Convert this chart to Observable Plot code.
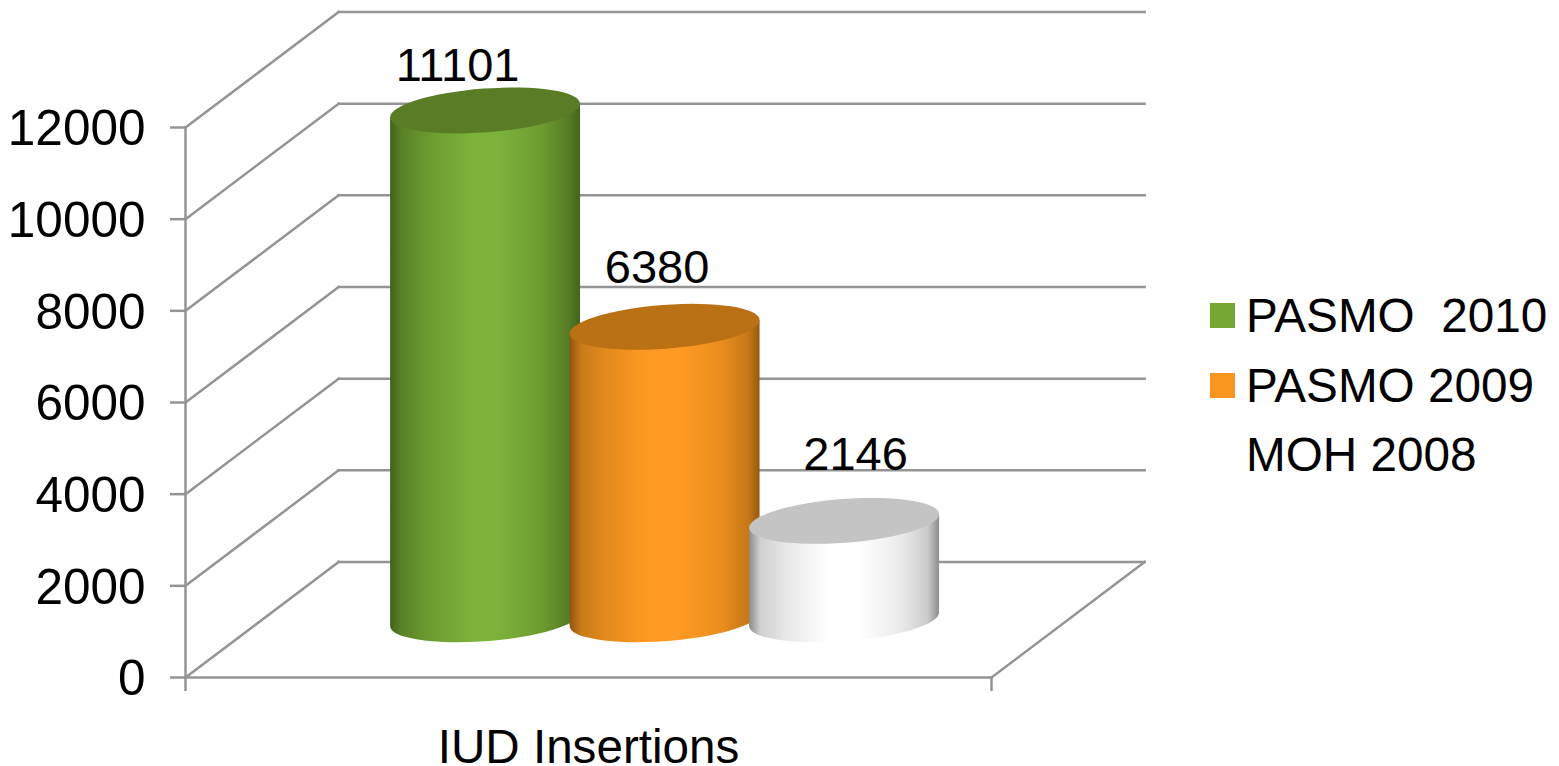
<!DOCTYPE html>
<html>
<head>
<meta charset="utf-8">
<script src="https://cdn.jsdelivr.net/npm/d3@7"></script>
<script src="https://cdn.jsdelivr.net/npm/@observablehq/plot@0.6"></script>
<style>
html,body{margin:0;padding:0;background:#fff;overflow:hidden}
#wrap{position:relative;width:1559px;height:766px;font-family:"Liberation Sans",Arial,sans-serif}
#legend{position:absolute;left:1210px;top:281px;font-size:47.7px;line-height:69.5px;color:#000}
#legend .row{display:flex;align-items:center;height:69.5px;white-space:pre}
#legend .sw{width:25px;height:25px;margin-right:11px;flex:none}
</style>
</head>
<body>
<div id="wrap">
<div id="chart"></div>
<div id="legend"></div>
</div>
<script>
const category = "IUD Insertions";
const seriesNames = ["PASMO  2010", "PASMO 2009", "MOH 2008"];
const seriesValues = [11101, 6380, 2146];
const yTicks = [0, 2000, 4000, 6000, 8000, 10000, 12000];

const swatchColors = ["#76a733", "#f8951f", "#ffffff"];
const capColors = ["#5a7c27", "#ba7014", "#c4c4c4"];
const gradientStops = [
  ["#42631c", "#5a8227", "#6b9a30", "#7cb13a", "#7cb13a", "#6c9b30", "#567c25", "#42631c"],
  ["#8f5510", "#c97a1a", "#e58a1d", "#ff9a22", "#ff9a22", "#ea8d1e", "#c67818", "#945a10"],
  ["#8c8c8c", "#d0d0d0", "#e8e8e8", "#ffffff", "#ffffff", "#eaeaea", "#cbcbcb", "#8c8c8c"]
];
const stopOffsets = [0, 0.06, 0.2, 0.42, 0.58, 0.8, 0.94, 1];

// 3-D projection of the chart box, in data units
const depthX = 0.19;
const depthY = 2520;
const slotStep = 0.2227;
const barWidth = 0.2357;
const labelNudge = [[-28, -30], [-8, -44], [11, -51]];
const gridColor = "#949494";

const rows = seriesNames.map((name, i) => {
  const c = 0.5 + (i - 1) * slotStep + depthX / 2;
  return {name, value: seriesValues[i], i, x1: c - barWidth / 2, x2: c + barWidth / 2, c,
          base: depthY / 2, top: seriesValues[i] + depthY / 2};
});

function cylinders(index, scales, values) {
  const g = d3.create("svg:g");
  const defs = g.append("defs");
  const tilt = 4.31, rad = tilt * Math.PI / 180;
  for (const k of index) {
    const d = rows[k];
    const xa = values.x1[k], xb = values.x2[k];
    const yBase = values.y1[k], yTop = values.y2[k];
    const cx = (xa + xb) / 2, hx = (xb - xa) / 2;
    const a = hx * 1.0026, b = hx * 0.2305;
    const skew = (a * a - b * b) * Math.sin(rad) * Math.cos(rad) / hx;
    const id = "cyl" + d.i;
    const grad = defs.append("linearGradient").attr("id", id).attr("x1", 0).attr("x2", 1).attr("y1", 0).attr("y2", 0);
    stopOffsets.forEach((o, j) => grad.append("stop").attr("offset", o).attr("stop-color", gradientStops[d.i][j]));
    g.append("path")
      .attr("fill", `url(#${id})`)
      .attr("d", `M${cx - hx},${yTop + skew}L${cx - hx},${yBase + skew}` +
        `A${a},${b} ${-tilt} 0 0 ${cx + hx},${yBase - skew}L${cx + hx},${yTop - skew}Z`);
    g.append("ellipse")
      .attr("fill", capColors[d.i])
      .attr("cx", cx).attr("cy", yTop).attr("rx", a).attr("ry", b)
      .attr("transform", `rotate(${-tilt} ${cx} ${yTop})`);
  }
  return g.node();
}

const lineOpts = {stroke: gridColor, strokeWidth: 2.5, strokeLinecap: "square"};
const fontSize = 47;

const chart = Plot.plot({
  width: 1559,
  height: 766,
  marginLeft: 185,
  marginRight: 568,
  marginTop: 127,
  marginBottom: 89,
  style: {fontFamily: '"Liberation Sans", Arial, sans-serif', background: "#fff", color: "#000", overflow: "visible"},
  x: {domain: [0, 1], label: null},
  y: {domain: [0, 12000], label: null},
  marks: [
    // left wall diagonals, back wall and floor edges
    Plot.link(yTicks, {x1: () => 0, x2: () => depthX, y1: d => d, y2: d => d + depthY, ...lineOpts}),
    Plot.link(yTicks, {x1: () => depthX, x2: () => 1 + depthX, y1: d => d + depthY, y2: d => d + depthY, ...lineOpts}),
    Plot.link([0], {x1: () => 0, x2: () => 1, y1: () => 0, y2: () => 0, ...lineOpts}),
    Plot.link([0], {x1: () => 1, x2: () => 1 + depthX, y1: () => 0, y2: () => depthY, ...lineOpts}),
    Plot.link([0], {x1: () => 0, x2: () => 0, y1: () => 0, y2: () => 12000, ...lineOpts}),
    Plot.axisY({
      ticks: yTicks, tickSize: 15, tickFormat: () => "", stroke: gridColor, strokeWidth: 2.5, anchor: "left", label: null
    }),
    Plot.axisY({
      ticks: yTicks, tickSize: 0, tickPadding: 40, tickFormat: d => String(d),
      fontSize: 49.5, anchor: "left", label: null, dy: 2
    }),
    Plot.axisX({ticks: [0, 1], tickSize: 14, tickFormat: () => "", stroke: gridColor, strokeWidth: 2.5, label: null}),
    Plot.axisX({ticks: [0.5], tickSize: 0, tickPadding: 70, tickFormat: () => category, fontSize: 47.6, label: null, lineAnchor: "middle"}),
    Plot.rect(rows, {x1: "x1", x2: "x2", y1: "base", y2: "top", render: cylinders}),
    ...rows.map((d, i) => Plot.text([d], {
      x: "c", y: "top", text: r => String(r.value), fontSize, fill: "#000",
      textAnchor: "middle", lineAnchor: "bottom", dx: labelNudge[i][0], dy: labelNudge[i][1]
    }))
  ]
});
document.getElementById("chart").appendChild(chart);

const legend = d3.select("#legend");
seriesNames.forEach((name, i) => {
  const row = legend.append("div").attr("class", "row");
  row.append("span").attr("class", "sw").style("background", swatchColors[i]);
  row.append("span").text(name);
});
</script>
</body>
</html>
